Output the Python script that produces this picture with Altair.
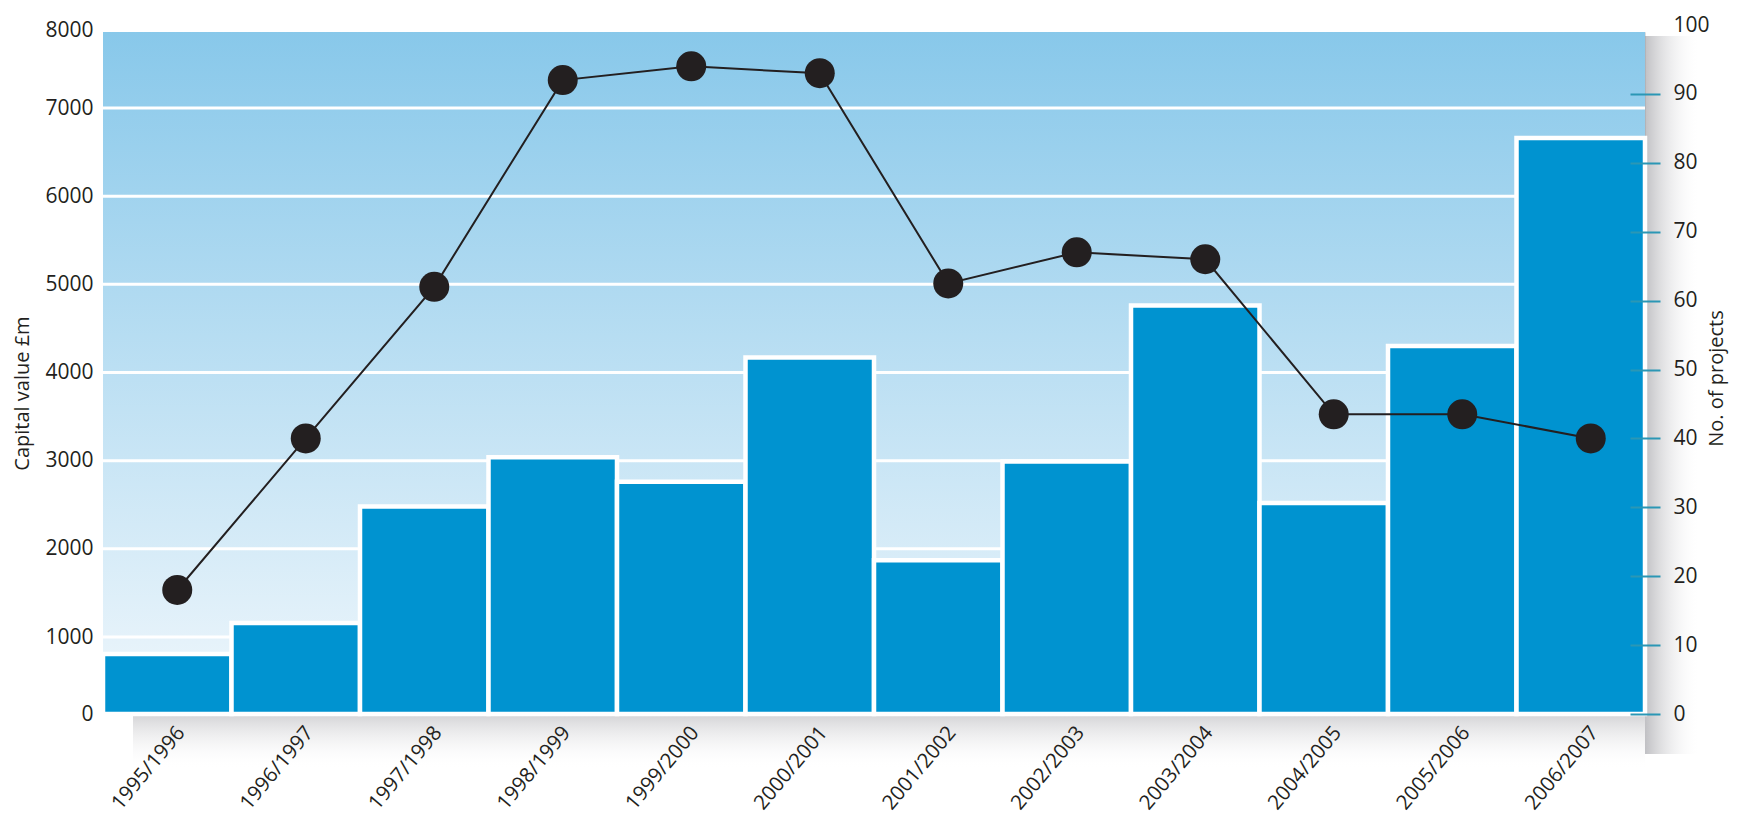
import altair as alt
import pandas as pd

years = ["1995/1996", "1996/1997", "1997/1998", "1998/1999", "1999/2000", "2000/2001",
         "2001/2002", "2002/2003", "2003/2004", "2004/2005", "2005/2006", "2006/2007"]
capital = [780, 1160, 2480, 3040, 2760, 4170, 1870, 2990, 4760, 2520, 4300, 6660]
projects = [18, 40, 62, 92, 94, 93, 62.5, 67, 66, 43.5, 43.5, 40]
left_ticks = [0, 1000, 2000, 3000, 4000, 5000, 6000, 7000, 8000]
right_ticks = [0, 10, 20, 30, 40, 50, 60, 70, 80, 90, 100]
grid_values = [1000, 2000, 3000, 4000, 5000, 6000, 7000]

W, H = 1542, 682
FONT = "Open Sans"
TXT = "#231f20"

df = pd.DataFrame({"year": years, "capital": capital, "projects": projects})
grid_df = pd.DataFrame({"v": grid_values})
one = pd.DataFrame({"a": [0]})

left_scale = alt.Scale(domain=[0, 1000, 7000, 8000], range=[H, H - 77, 76, -2], nice=False)
right_scale = alt.Scale(domain=[0, 100], range=[H, -7], nice=False)

xenc = alt.X("year:N", sort=years,
             scale=alt.Scale(paddingInner=0, paddingOuter=0),
             axis=alt.Axis(title=None, labelAngle=-50, labelFontSize=20.5, ticks=False,
                           domain=False, labelPadding=15, labelColor=TXT, labelFont=FONT,
                           labelOffset=14, zindex=2))

bg_grad = {"gradient": "linear", "x1": 0, "y1": 0, "x2": 0, "y2": 1,
           "stops": [{"offset": 0, "color": "#88c8ea"}, {"offset": 1, "color": "#f0f7fc"}]}
shadow_r = {"gradient": "linear", "x1": 0, "y1": 0, "x2": 1, "y2": 0,
            "stops": [{"offset": 0, "color": "rgba(150,150,156,0.6)"},
                      {"offset": 1, "color": "rgba(255,255,255,0)"}]}
shadow_b = {"gradient": "linear", "x1": 0, "y1": 0, "x2": 0, "y2": 1,
            "stops": [{"offset": 0, "color": "rgba(150,150,156,0.42)"},
                      {"offset": 1, "color": "rgba(255,255,255,0)"}]}

shadow_right = alt.Chart(one).mark_rect(fill=shadow_r).encode(
    x=alt.value(W), x2=alt.value(W + 55), y=alt.value(4), y2=alt.value(H + 40))
shadow_bottom = alt.Chart(one).mark_rect(fill=shadow_b).encode(
    x=alt.value(30), x2=alt.value(W), y=alt.value(H), y2=alt.value(H + 55))

background = alt.Chart(one).mark_rect(fill=bg_grad).encode(
    x=alt.value(0), x2=alt.value(W), y=alt.value(0), y2=alt.value(H))

grid = alt.Chart(grid_df).mark_rule(color="white", strokeWidth=3).encode(
    y=alt.Y("v:Q", scale=left_scale, axis=None))

bars = alt.Chart(df).mark_bar(color="#0093d0", stroke="white", strokeWidth=4.5).encode(
    x=xenc,
    y=alt.Y("capital:Q", scale=left_scale,
            axis=alt.Axis(orient="left", values=left_ticks, format="d", domain=False,
                          ticks=False, grid=False,
                          labelFontSize=21, labelColor=TXT, labelFont=FONT, labelPadding=10,
                          title="Capital value £m", titleFontSize=20, titleFontWeight="normal",
                          titleColor=TXT, titleFont=FONT, titlePadding=12, titleY=H / 2 + 20,
                          zindex=2)))

line = alt.Chart(df).mark_line(color=TXT, strokeWidth=2, xOffset=10).encode(
    x=xenc,
    y=alt.Y("projects:Q", scale=right_scale,
            axis=alt.Axis(orient="right", values=right_ticks, domain=False, grid=False,
                          ticks=True, tickSize=30, tickColor="#2b97b5", tickWidth=2,
                          tickOpacity={"condition": {"test": "datum.value === 100", "value": 0}, "value": 1},
                          offset=-15, labelPadding=13, labelFontSize=21, labelColor=TXT,
                          labelFont=FONT, title="No. of projects", titleFontSize=20,
                          titleFontWeight="normal", titleColor=TXT, titleFont=FONT,
                          titleAngle=270, titleX=92, titleY=H / 2 + 5, titleBaseline="alphabetic",
                          zindex=2)))

points = alt.Chart(df).mark_circle(size=900, color=TXT, opacity=1, xOffset=10).encode(
    x=xenc,
    y=alt.Y("projects:Q", scale=right_scale, axis=None))

chart = alt.layer(shadow_right, shadow_bottom, background, grid, bars, line, points).resolve_scale(
    y="independent"
).properties(
    width=W, height=H,
    autosize=alt.AutoSizeParams(type="none"),
    padding={"left": 95, "top": 24, "right": 86, "bottom": 102},
).configure_view(stroke=None).configure(background="white")

chart.save("out.html", embed_options={"renderer": "svg", "actions": False})
